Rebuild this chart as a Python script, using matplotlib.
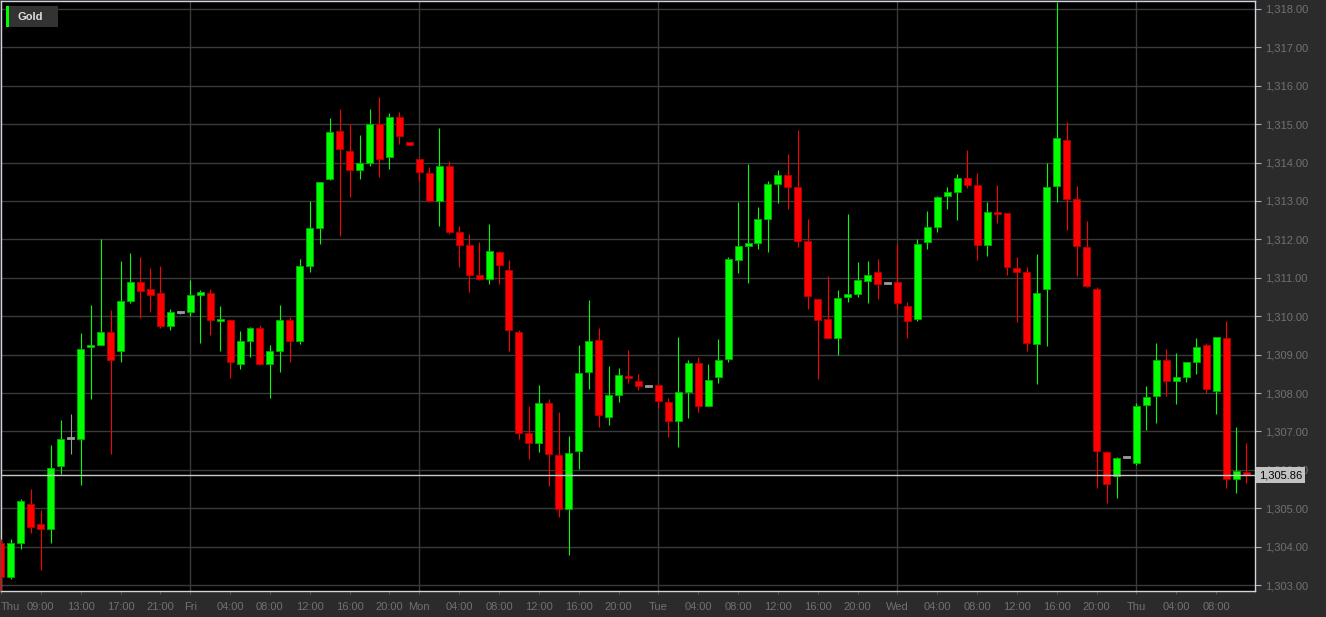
import matplotlib
matplotlib.use('Agg')
import matplotlib.pyplot as plt
from matplotlib.patches import Rectangle
import numpy as np

plt.rcParams['font.family'] = ['Liberation Sans', 'DejaVu Sans']

# hourly gold candles, Thu 05:00 -> next Thu 11:00 (weekend gap skipped)
opens = [1304.1, 1303.2, 1304.1, 1305.1, 1304.6, 1304.45, 1306.1, 1306.8, 1306.8, 1309.2,
         1309.25, 1309.6, 1309.1, 1310.4, 1310.9, 1310.7, 1310.6, 1309.75, 1310.08, 1310.1,
         1310.55, 1310.6, 1309.88, 1309.9, 1308.75, 1309.36, 1309.7, 1308.75, 1309.1, 1309.9,
         1309.36, 1311.3, 1312.3, 1313.58, 1314.82, 1314.3, 1313.8, 1314.0, 1315.0, 1314.14,
         1315.18, 1314.5, 1314.1, 1313.74, 1313.0, 1313.92, 1312.18, 1311.86, 1311.07, 1310.97,
         1311.68, 1311.2, 1309.6, 1306.95, 1306.71, 1307.73, 1306.39, 1304.98, 1306.5, 1308.54,
         1309.38, 1307.37, 1307.95, 1308.45, 1308.32, 1308.15, 1308.2, 1307.77, 1307.27, 1308.03,
         1308.77, 1307.67, 1308.42, 1308.88, 1311.46, 1311.84, 1311.91, 1312.53, 1313.43, 1313.68,
         1313.37, 1311.96, 1310.45, 1309.93, 1309.42, 1310.51, 1310.59, 1310.92, 1311.16, 1310.83,
         1310.9, 1310.27, 1309.93, 1311.94, 1312.33, 1313.14, 1313.24, 1313.59, 1313.42, 1311.85,
         1312.7, 1312.68, 1311.25, 1311.14, 1309.27, 1310.72, 1313.39, 1314.6, 1313.04, 1311.79,
         1310.72, 1306.46, 1305.84, 1306.3, 1306.17, 1307.7, 1307.93, 1308.86, 1308.32, 1308.42,
         1308.8, 1309.25, 1308.06, 1309.44, 1305.75, 1305.95]
highs = [1304.2, 1304.2, 1305.25, 1305.5, 1304.95, 1306.65, 1307.3, 1307.45, 1309.55, 1310.3,
         1312.0, 1310.15, 1311.45, 1311.65, 1311.55, 1311.25, 1311.3, 1310.2, 1310.1, 1310.95,
         1310.68, 1310.7, 1310.27, 1309.9, 1309.62, 1309.72, 1309.76, 1309.25, 1310.3, 1309.97,
         1311.5, 1313.0, 1313.5, 1315.15, 1315.4, 1315.0, 1314.73, 1315.4, 1315.7, 1315.28,
         1315.31, 1314.5, 1314.12, 1313.88, 1314.9, 1314.04, 1312.35, 1312.14, 1311.92, 1312.39,
         1311.7, 1311.46, 1309.64, 1307.66, 1308.2, 1307.84, 1307.5, 1306.89, 1309.25, 1310.42,
         1309.7, 1308.7, 1308.64, 1309.13, 1308.5, 1308.15, 1308.22, 1307.86, 1309.47, 1308.87,
         1308.93, 1308.75, 1309.4, 1311.55, 1312.98, 1313.96, 1312.85, 1313.52, 1313.81, 1314.22,
         1314.85, 1312.52, 1310.46, 1311.05, 1310.68, 1312.66, 1311.42, 1311.45, 1311.5, 1310.83,
         1311.87, 1310.36, 1312.0, 1312.75, 1313.12, 1313.37, 1313.7, 1314.33, 1313.72, 1312.98,
         1313.42, 1312.7, 1311.53, 1311.29, 1311.61, 1314.0, 1318.17, 1315.05, 1313.39, 1312.48,
         1310.75, 1306.5, 1306.33, 1306.3, 1307.73, 1308.18, 1309.31, 1309.14, 1309.03, 1308.82,
         1309.44, 1309.3, 1309.47, 1309.87, 1307.11, 1306.69]
lows = [1302.85, 1303.15, 1303.95, 1304.35, 1303.4, 1304.1, 1305.9, 1306.4, 1305.6, 1307.85,
        1309.25, 1306.4, 1308.8, 1310.35, 1309.95, 1310.1, 1309.7, 1309.65, 1310.05, 1310.0,
        1309.3, 1309.5, 1309.1, 1308.4, 1308.62, 1308.93, 1308.73, 1307.86, 1308.55, 1308.8,
        1309.27, 1311.15, 1311.88, 1313.55, 1312.1, 1313.1, 1313.57, 1313.9, 1313.63, 1313.83,
        1314.48, 1314.47, 1313.52, 1312.98, 1312.35, 1312.15, 1311.29, 1310.62, 1310.95, 1310.85,
        1310.83, 1309.1, 1306.8, 1306.29, 1306.46, 1305.59, 1304.78, 1303.78, 1306.02, 1308.1,
        1307.12, 1307.17, 1307.76, 1308.27, 1308.08, 1308.15, 1307.62, 1306.85, 1306.59, 1307.34,
        1307.5, 1307.65, 1308.25, 1308.8, 1311.12, 1310.86, 1311.74, 1311.66, 1312.96, 1312.78,
        1311.81, 1310.18, 1308.36, 1309.4, 1309.0, 1310.38, 1310.49, 1310.34, 1310.44, 1310.83,
        1310.19, 1309.42, 1309.88, 1311.74, 1312.18, 1312.78, 1312.5, 1313.35, 1311.46, 1311.58,
        1312.42, 1311.07, 1309.85, 1309.1, 1308.23, 1309.22, 1312.98, 1312.24, 1311.05, 1310.75,
        1305.52, 1305.13, 1305.27, 1306.3, 1306.12, 1307.04, 1307.23, 1307.93, 1307.71, 1308.29,
        1308.49, 1308.0, 1307.45, 1305.53, 1305.39, 1305.65]
closes = [1303.2, 1304.1, 1305.2, 1304.5, 1304.45, 1306.05, 1306.8, 1306.8, 1309.15, 1309.25,
          1309.6, 1308.85, 1310.4, 1310.9, 1310.65, 1310.55, 1309.75, 1310.1, 1310.08, 1310.55,
          1310.62, 1309.9, 1309.92, 1308.8, 1309.35, 1309.68, 1308.75, 1309.1, 1309.9, 1309.35,
          1311.3, 1312.3, 1313.5, 1314.8, 1314.36, 1313.8, 1314.0, 1315.0, 1314.1, 1315.2,
          1314.68, 1314.47, 1313.76, 1313.0, 1313.9, 1312.18, 1311.86, 1311.07, 1310.96, 1311.7,
          1311.33, 1309.64, 1306.97, 1306.71, 1307.73, 1306.4, 1304.98, 1306.43, 1308.53, 1309.35,
          1307.43, 1307.95, 1308.47, 1308.38, 1308.17, 1308.15, 1307.8, 1307.27, 1308.02, 1308.77,
          1307.67, 1308.35, 1308.87, 1311.48, 1311.83, 1311.91, 1312.52, 1313.44, 1313.68, 1313.37,
          1311.96, 1310.53, 1309.9, 1309.42, 1310.48, 1310.58, 1310.95, 1311.07, 1310.84, 1310.83,
          1310.34, 1309.88, 1311.88, 1312.31, 1313.11, 1313.24, 1313.59, 1313.42, 1311.85, 1312.72,
          1312.67, 1311.29, 1311.14, 1309.29, 1310.6, 1313.36, 1314.63, 1313.05, 1311.83, 1310.79,
          1306.5, 1305.63, 1306.32, 1306.3, 1307.67, 1307.9, 1308.87, 1308.32, 1308.42, 1308.8,
          1309.21, 1308.1, 1309.45, 1305.76, 1305.97, 1305.86]

tick_idx = [0, 4, 8, 12, 16, 19, 23, 27, 31, 35, 39, 42, 46, 50, 54, 58, 62, 66,
            70, 74, 78, 82, 86, 90, 94, 98, 102, 106, 110, 114, 118, 122]
tick_labels = ['Thu', '09:00', '13:00', '17:00', '21:00', 'Fri', '04:00', '08:00', '12:00', '16:00',
               '20:00', 'Mon', '04:00', '08:00', '12:00', '16:00', '20:00', 'Tue', '04:00', '08:00',
               '12:00', '16:00', '20:00', 'Wed', '04:00', '08:00', '12:00', '16:00', '20:00', 'Thu',
               '04:00', '08:00']
day_idx = [19, 42, 66, 90, 114]
price_ticks = list(range(1303, 1319))
series_name = 'Gold'

W, H = 1326, 617
BG = '#2b2b2b'
GRID = '#3a3a3a'
TXT = '#717171'
UP, DOWN, FLAT = '#00ff00', '#ff0000', '#9a9a9a'

o = np.array(opens)
h = np.array(highs)
l = np.array(lows)
c = np.array(closes)
x = np.arange(len(o))

colors = np.where(c > o, UP, np.where(c < o, DOWN, FLAT))
edges = np.where(c > o, '#00b000', np.where(c < o, '#b80000', FLAT))
body_low = np.minimum(o, c)
body_h = np.maximum(np.abs(c - o), 0.055)

fig = plt.figure(figsize=(W / 100, H / 100), dpi=100, facecolor=BG)
ax = fig.add_axes([1 / W, 26 / H, 1254 / W, 590 / H])
ax.set_facecolor('black')

ax.vlines(x, l, h, colors=colors, linewidth=0.8, zorder=3)
ax.bar(x, body_h, bottom=body_low, width=0.7, color=colors, edgecolor=edges,
       linewidth=0.6, zorder=4)

ax.set_xlim(0.1, 125.9)
ax.set_ylim(1302.844, 1318.208)

for p in price_ticks:
    ax.axhline(p, color=GRID, linewidth=1.0, zorder=1)
for d in day_idx:
    ax.axvline(d, color=GRID, linewidth=1.0, zorder=1)

last = closes[-1]
ax.axhline(last, color='#c8c8c8', linewidth=1.0, zorder=5)

ax.yaxis.tick_right()
ax.set_yticks(price_ticks)
ax.set_yticklabels([f'{p:,.2f}' for p in price_ticks])
ax.set_xticks(tick_idx)
ax.set_xticklabels(tick_labels)
ax.get_xticklabels()[0].set_horizontalalignment('left')
ax.tick_params(axis='y', colors='#b0b0b0', labelcolor=TXT, labelsize=8, length=4, width=0.8, pad=3)
ax.tick_params(axis='x', colors='#555555', labelcolor=TXT, labelsize=8, length=2, width=0.8, pad=6)
for s in ax.spines.values():
    s.set_color('#d0d4dc')
    s.set_linewidth(1.0)

ax.text(1.003, last, f'{last:,.2f}', transform=ax.get_yaxis_transform(), ha='left', va='center',
        fontsize=8, color='black', zorder=10, clip_on=False,
        bbox=dict(boxstyle='square,pad=0.28', fc='#c2c2c2', ec='none'))

# legend chip top left
fig.add_artist(Rectangle((6 / W, 1 - 27 / H), 52 / W, 21 / H, transform=fig.transFigure,
                         facecolor='#333333', edgecolor='none', zorder=10))
fig.add_artist(Rectangle((6 / W, 1 - 27 / H), 3 / W, 21 / H, transform=fig.transFigure,
                         facecolor=UP, edgecolor='none', zorder=11))
fig.text(18 / W, 1 - 17 / H, series_name, color='#dedede', fontsize=8, fontweight='bold',
         va='center', ha='left', zorder=12)

fig.savefig('out.png', dpi=100, facecolor=BG)
